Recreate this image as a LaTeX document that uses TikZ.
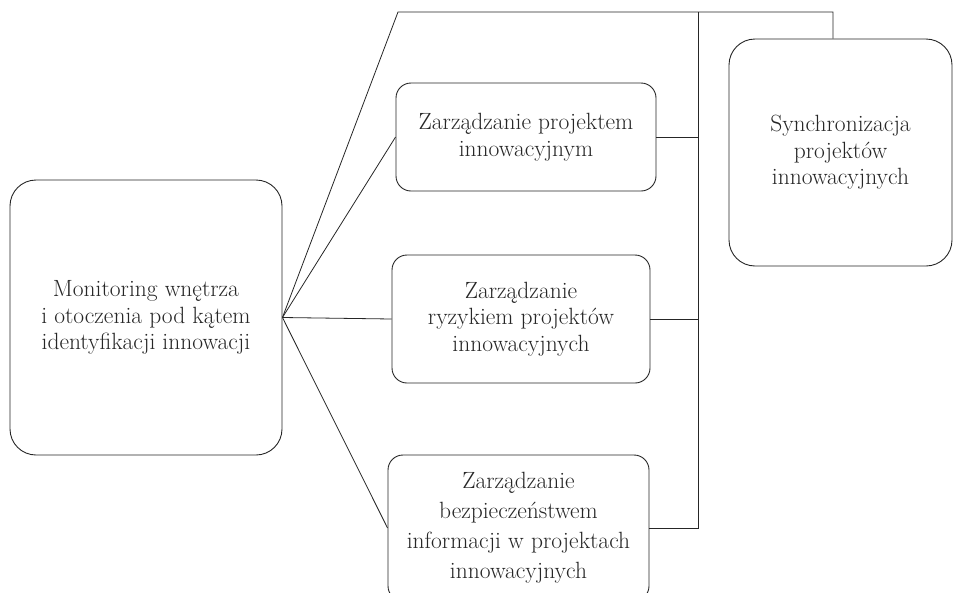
\documentclass[tikz,border=0pt]{standalone}
\usepackage{fontspec}
\setmainfont{Latin Modern Roman}
\usepackage{tikz}

\begin{document}
\begin{tikzpicture}[x=1pt,y=-1pt,
    box/.style={draw=black!85,line width=0.9pt,rounded corners=15pt,align=center,inner sep=0pt,
                font=\fontsize{23.5}{26.5}\selectfont,text=black!85},
    bigbox/.style={box,rounded corners=26pt},
    link/.style={draw=black!85,line width=0.8pt}]
  \useasboundingbox (0,0) rectangle (953,592);
  \node[bigbox,minimum width=272pt,minimum height=275pt] (monitoring) at (146,317.5) {Monitoring wnętrza\\i otoczenia pod kątem\\identyfikacji innowacji};
  \node[box,minimum width=260pt,minimum height=108pt] (projekt) at (526,137) {Zarządzanie projektem\\innowacyjnym};
  \node[box,minimum width=258pt,minimum height=128pt] (ryzyko) at (521,319) {Zarządzanie\\ryzykiem projektów\\innowacyjnych};
  \node[box,minimum width=261pt,minimum height=146pt,font=\fontsize{23.5}{30}\selectfont] (bezp) at (518.5,528) {Zarządzanie\\bezpieczeństwem\\informacji w projektach\\innowacyjnych};
  \node[bigbox,minimum width=223pt,minimum height=227pt] (synchro) at (840.5,152.5) {Synchronizacja\\projektów\\innowacyjnych};
  \coordinate (top left) at (398,12);
  \coordinate (top right) at (833,12);
  \coordinate (bus) at (698,12);
  % from the monitoring box
  \draw[link] (monitoring.east) -- (top left) -- (top right) -- (top right |- synchro.north);
  \draw[link] (monitoring.east) -- (projekt.west);
  \draw[link] (monitoring.east) -- (ryzyko.west);
  \draw[link] (monitoring.east) -- (bezp.west);
  % common bus
  \draw[link] (bus) -- (bus |- bezp.east) -- (bezp.east);
  \draw[link] (projekt.east) -- (projekt.east -| bus);
  \draw[link] (ryzyko.east) -- (ryzyko.east -| bus);
\end{tikzpicture}
\end{document}
